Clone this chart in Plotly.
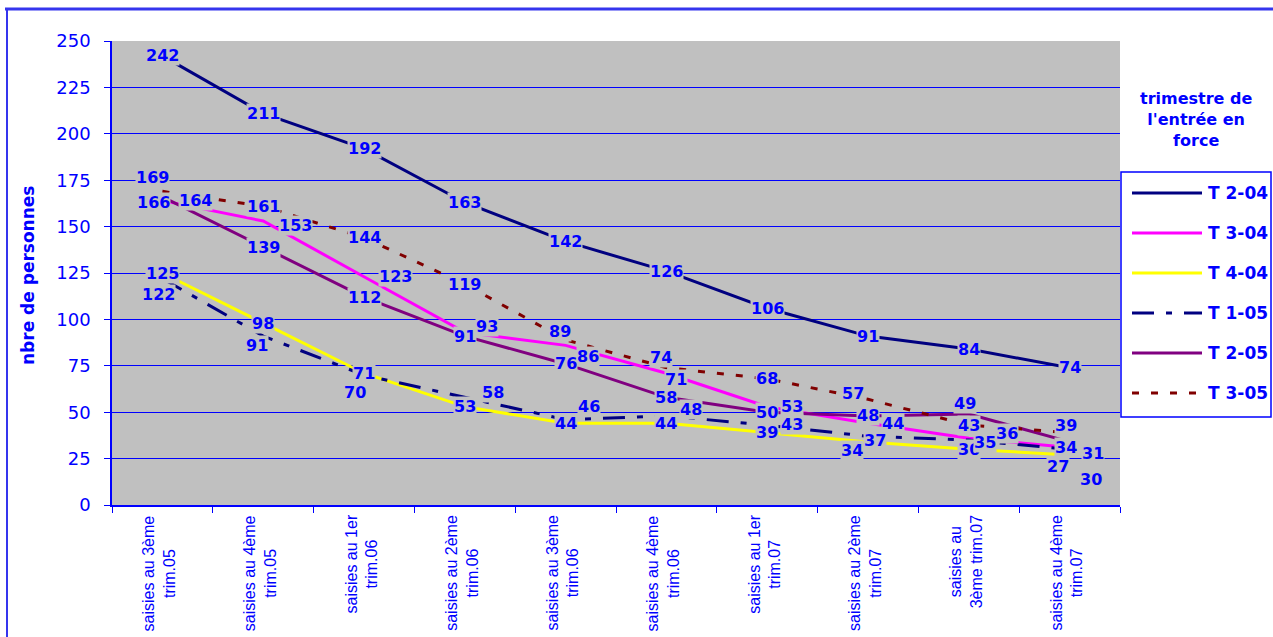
import plotly.graph_objects as go

# ---------------- data ----------------
x_labels = [
    "saisies au 3ème<br>trim.05",
    "saisies au 4ème<br>trim.05",
    "saisies au 1er<br>trim.06",
    "saisies au 2ème<br>trim.06",
    "saisies au 3ème<br>trim.06",
    "saisies au 4ème<br>trim.06",
    "saisies au 1er<br>trim.07",
    "saisies au 2ème<br>trim.07",
    "saisies au<br>3ème trim.07",
    "saisies au 4ème<br>trim.07",
]
series_names = ["T 2-04", "T 3-04", "T 4-04", "T 1-05", "T 2-05", "T 3-05"]
t2_04 = [242, 211, 192, 163, 142, 126, 106, 91, 84, 74]
t3_04 = [164, 153, 123, 93, 86, 71, 53, 44, 36, 31]
t4_04 = [125, 98, 71, 53, 44, 44, 39, 34, 30, 27]
t1_05 = [122, 91, 70, 58, 46, 48, 43, 37, 35, 30]
t2_05 = [166, 139, 112, 91, 76, 58, 50, 48, 49, 34]
t3_05 = [169, 161, 144, 119, 89, 74, 68, 57, 43, 39]
series_values = [t2_04, t3_04, t4_04, t1_05, t2_05, t3_05]
y_title = "nbre de personnes"
legend_title = "trimestre de<br>l'entrée en<br>force"

# ---------------- styles ----------------
BLUE = "#0000ff"
colors = ["#000080", "#ff00ff", "#ffff00", "#000080", "#800080", "#800000"]
dashes = ["solid", "solid", "solid", "22px,12px,6px,12px", "solid", "7px,12px"]

# label offsets in pixels (dx right, dy down) per series
label_offsets = [
    [(0, 0)] * 10,
    [(33, 0), (32, 4), (31, 0), (22, -6), (22, 11), (10, 6), (25, 0), (25, 0), (38, -5), (23, 6)],
    [(0, 0)] * 7 + [(-16, 9), (0, 0), (-12, 12)],
    [(-4, 16), (-6, 9), (-9, 17), (28, -5), (23, -13), (25, -6), (25, -1), (7, 4), (16, 2), (21, 30)],
    [(-9, 6)] + [(0, 0)] * 7 + [(-4, -11), (-4, 6)],
    [(-10, -14), (0, 0), (0, 0), (0, 0), (-6, -8), (-5, -10), (0, 0), (-15, -6), (0, 0), (-4, -7)],
]

W, H = 1273, 637
PL, PR, PT, PB = 112, 1120, 41, 505


def px(x):
    return (x - PL) / (PR - PL)


def py(y):
    return (PB - y) / (PB - PT)


fig = go.Figure()
for name, vals, col, dash in zip(series_names, series_values, colors, dashes):
    fig.add_trace(go.Scatter(
        x=x_labels, y=vals, mode="lines", name=name,
        line=dict(color=col, width=3, dash=dash), showlegend=False,
        hoverinfo="skip",
    ))

annotations = []
# data labels
for vals, offs in zip(series_values, label_offsets):
    for xl, v, (dx, dy) in zip(x_labels, vals, offs):
        annotations.append(dict(
            x=xl, y=v, xref="x", yref="y", text="<b>%d</b>" % v, showarrow=False,
            xshift=dx, yshift=-dy, bgcolor="#c0c0c0", borderpad=0,
            font=dict(family="DejaVu Sans", size=16, color=BLUE),
        ))

# x category labels (rotated)
for xl in x_labels:
    annotations.append(dict(
        x=xl, y=py(513), xref="x", yref="paper", text=xl, showarrow=False,
        textangle=-90, xanchor="center", yanchor="top", align="center", xshift=-3,
        font=dict(family="Liberation Sans, Arial", size=16, color=BLUE),
    ))

# y-axis title
annotations.append(dict(
    x=px(28), y=py(276), xref="paper", yref="paper", text="<b>%s</b>" % y_title,
    showarrow=False, textangle=-90, xanchor="center", yanchor="middle",
    font=dict(family="DejaVu Sans", size=17, color=BLUE),
))

# legend title
annotations.append(dict(
    x=px(1196), y=py(120), xref="paper", yref="paper", text="<b>%s</b>" % legend_title,
    showarrow=False, xanchor="center", yanchor="middle", align="center",
    font=dict(family="DejaVu Sans", size=16, color=BLUE),
))

shapes = []
# legend box
shapes.append(dict(type="rect", xref="paper", yref="paper",
                   x0=px(1121), x1=px(1271), y0=py(417), y1=py(172),
                   line=dict(color=BLUE, width=1.5), fillcolor="white", layer="below"))
for i, (name, col, dash) in enumerate(zip(series_names, colors, dashes)):
    yy = 193 + 40 * i
    shapes.append(dict(type="line", xref="paper", yref="paper",
                       x0=px(1132), x1=px(1202), y0=py(yy), y1=py(yy),
                       line=dict(color=col, width=3, dash=dash)))
    annotations.append(dict(
        x=px(1206), y=py(yy), xref="paper", yref="paper", text="<b>%s</b>" % name,
        showarrow=False, xanchor="left", yanchor="middle",
        font=dict(family="DejaVu Sans", size=17, color=BLUE),
    ))

# outer chart border (top and left)
shapes.append(dict(type="line", xref="paper", yref="paper",
                   x0=px(5), x1=px(1280), y0=py(9), y1=py(9),
                   line=dict(color="#3535ee", width=3)))
shapes.append(dict(type="line", xref="paper", yref="paper",
                   x0=px(7), x1=px(7), y0=py(9), y1=py(640),
                   line=dict(color="#3535ee", width=2)))

fig.update_layout(
    width=W, height=H, autosize=False,
    margin=dict(l=PL, r=W - PR, t=PT, b=H - PB),
    paper_bgcolor="white", plot_bgcolor="#c0c0c0",
    annotations=annotations, shapes=shapes, showlegend=False,
    xaxis=dict(type="category", range=[-0.5, 9.5], showline=True, linecolor=BLUE,
               linewidth=1.5, ticks="outside", tickson="boundaries", ticklen=6,
               tickcolor=BLUE, showticklabels=False, showgrid=False, zeroline=False,
               fixedrange=True),
    yaxis=dict(range=[0, 250], dtick=25, showline=True, linecolor=BLUE, linewidth=1.5,
               ticks="outside", ticklen=6, tickcolor=BLUE, gridcolor=BLUE, gridwidth=1,
               zeroline=False, ticklabelstandoff=10,
               tickfont=dict(family="DejaVu Sans", size=18, color=BLUE), fixedrange=True),
)

fig.write_html(
    "out.html",
    config={"displayModeBar": False},
    post_script="document.body.style.margin='0';document.body.style.overflow='hidden';",
)
